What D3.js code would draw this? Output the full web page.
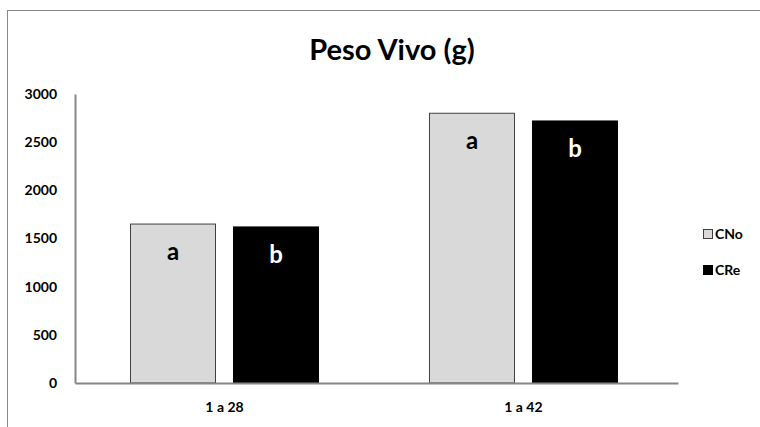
<!DOCTYPE html>
<html><head><meta charset="utf-8">
<script src="https://cdn.jsdelivr.net/npm/d3@7"></script>
<style>body{margin:0;background:#fff}svg{display:block}</style>
</head><body>
<svg id="c" width="760" height="427"></svg>
<script>
const categories = ["1 a 28", "1 a 42"];
const series = ["CNo", "CRe"];
const valuesCNo = [1650, 2800];
const valuesCRe = [1620, 2720];
const lettersCNo = ["a", "a"];
const lettersCRe = ["b", "b"];
const yTicks = [0, 500, 1000, 1500, 2000, 2500, 3000];
const title = "Peso Vivo (g)";

(function () {
const font = "Lato, 'Open Sans', sans-serif";
const svg = d3.select("#c");
const colors = {CNo: "#d9d9d9", CRe: "#000000"};
const strokes = {CNo: "#404040", CRe: "#000000"};
const textColors = {CNo: "#000", CRe: "#fff"};

svg.append("rect").attr("x", 7.5).attr("y", 10.5).attr("width", 800).attr("height", 500)
  .attr("fill", "none").attr("stroke", "#888").attr("stroke-width", 1);

const mLeft = 75, mRight = 678, mTop = 94, mBottom = 383;
const x0 = d3.scaleBand().domain(categories).range([mLeft, mRight])
  .paddingInner(0).paddingOuter(0.0084).align(0);
const y = d3.scaleLinear().domain([0, 3000]).range([mBottom, mTop]);
const barW = 85, gap = 18;
const x1 = d3.scaleBand().domain(series).range([-(barW + gap / 2), barW + gap / 2])
  .paddingInner(gap / (barW + gap)).paddingOuter(0);

svg.append("text").attr("x", 392).attr("y", 60).attr("text-anchor", "middle")
  .attr("font-family", font).attr("font-weight", "bold").attr("font-size", 29)
  .attr("fill", "#000").text(title);

const yAxis = d3.axisLeft(y).tickValues(yTicks).tickSize(0).tickPadding(18).tickFormat(d3.format("d"));
const gy = svg.append("g").attr("transform", `translate(${mLeft},0)`).call(yAxis);
gy.select(".domain").attr("stroke", "#868686").attr("stroke-width", 2);
gy.selectAll("text").attr("font-family", font).attr("font-weight", "bold").attr("font-size", 14).attr("fill", "#000");

const data = categories.map((c, i) => ({cat: c, vals: [
  {s: "CNo", v: valuesCNo[i], l: lettersCNo[i]},
  {s: "CRe", v: valuesCRe[i], l: lettersCRe[i]}]}));

const groups = svg.selectAll("g.grp").data(data).join("g").attr("class", "grp")
  .attr("transform", d => `translate(${x0(d.cat) + x0.bandwidth() / 2},0)`);

groups.selectAll("rect").data(d => d.vals).join("rect")
  .attr("x", d => x1(d.s)).attr("width", x1.bandwidth())
  .attr("y", d => y(d.v)).attr("height", d => y(0) - y(d.v))
  .attr("fill", d => colors[d.s]).attr("stroke", d => strokes[d.s]).attr("stroke-width", 1);

groups.selectAll("text.lbl").data(d => d.vals).join("text").attr("class", "lbl")
  .attr("x", d => x1(d.s) + x1.bandwidth() / 2).attr("y", d => y(d.v) + 36)
  .attr("text-anchor", "middle").attr("font-family", font).attr("font-weight", "bold")
  .attr("font-size", 24).attr("fill", d => textColors[d.s]).text(d => d.l);

const xAxis = d3.axisBottom(x0).tickSize(0).tickPadding(19);
const gx = svg.append("g").attr("transform", `translate(0,${mBottom})`).call(xAxis);
gx.select(".domain").attr("stroke", "#868686").attr("stroke-width", 2);
gx.selectAll("text").attr("font-family", font).attr("font-weight", "bold").attr("font-size", 14).attr("fill", "#000");

const lg = svg.append("g").selectAll("g").data(series).join("g")
  .attr("transform", (d, i) => `translate(703,${229 + i * 36})`);
lg.append("rect").attr("x", 0.5).attr("y", 0.5).attr("width", 9).attr("height", 9)
  .attr("fill", d => colors[d]).attr("stroke", d => strokes[d]);
lg.append("text").attr("x", 12).attr("y", 10).attr("font-family", font).attr("font-weight", "bold")
  .attr("font-size", 14).attr("fill", "#000").text(d => d);
})();
</script>
</body></html>
